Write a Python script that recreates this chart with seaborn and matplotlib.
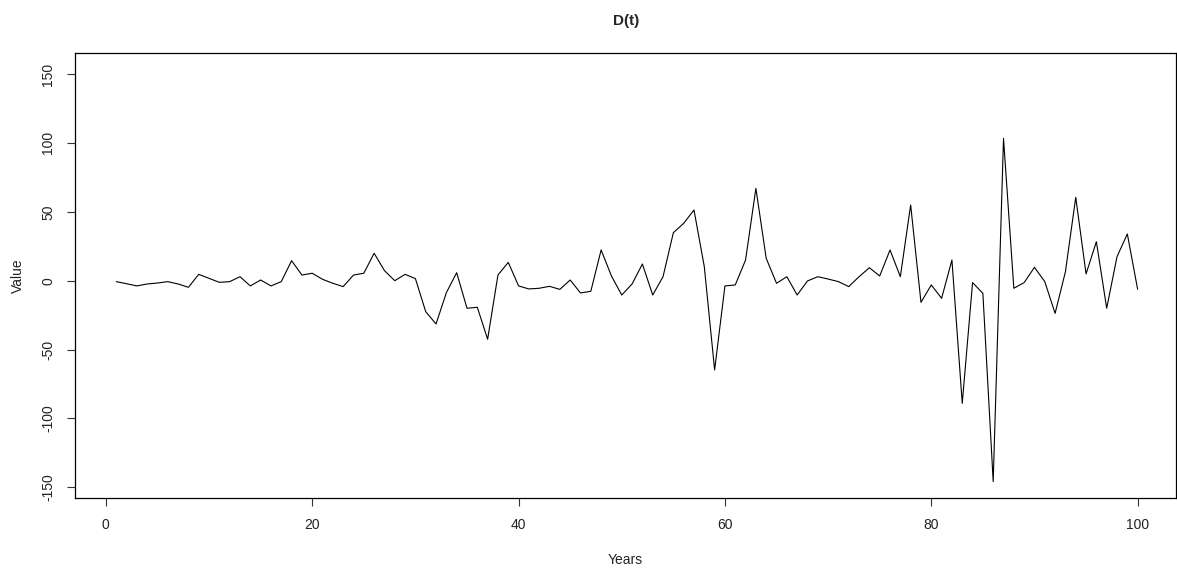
import numpy as np
import pandas as pd
import seaborn as sns
import matplotlib.pyplot as plt

# values, one per year
years = list(range(1, 101))
values = [
    -0.7, -2.2, -3.8, -2.4, -1.7, -0.7, -2.4, -4.8, 4.6, 1.7,
    -1.2, -0.7, 2.9, -3.8, 0.5, -3.8, -0.7, 14.5, 4.1, 5.4,
    1.0, -1.9, -4.3, 4.1, 5.4, 19.9, 7.3, 0.0, 4.6, 1.5,
    -22.5, -31.4, -8.7, 5.8, -20.0, -19.3, -42.5, 4.1, 13.3, -3.8,
    -6.0, -5.5, -4.1, -6.3, 0.5, -8.9, -7.7, 22.3, 3.4, -10.4,
    -2.4, 12.1, -10.4, 2.9, 34.8, 41.6, 51.3, 10.2, -64.8, -3.8,
    -3.1, 15.0, 67.0, 16.2, -1.9, 2.9, -10.4, -0.2, 2.9, 1.2,
    -0.7, -4.3, 2.9, 9.4, 3.4, 22.3, 2.9, 54.9, -15.7, -3.1,
    -12.8, 15.0, -89.0, -1.4, -9.2, -145.8, 103.3, -5.5, -1.4, 9.7,
    -0.7, -23.7, 6.5, 60.5, 4.9, 28.3, -20.0, 17.4, 33.9, -6.3,
]
x_ticks = [0, 20, 40, 60, 80, 100]
y_ticks = [-150, -100, -50, 0, 50, 100, 150]

df = pd.DataFrame({'Years': years, 'Value': values})

sns.set_style('white')
plt.rcParams['font.family'] = ['Liberation Sans', 'DejaVu Sans']
plt.rcParams['axes.unicode_minus'] = False  # R draws a plain hyphen

fig = plt.figure(figsize=(11.77, 5.70), dpi=100)
ax = fig.add_axes([0.064, 0.1263, 0.935, 0.7802])

sns.lineplot(data=df, x='Years', y='Value', color='black', linewidth=0.8, ax=ax)

ax.set_xlim(-2.96, 103.7)
ax.set_ylim(-157.7, 165)
ax.set_xticks(x_ticks)
ax.set_yticks(y_ticks)
ax.tick_params(direction='out', length=5.5, width=0.8, color='#333333',
               labelsize=10, labelcolor='#222222', pad=9,
               bottom=True, left=True)
plt.setp(ax.get_yticklabels(), rotation=90, va='center')
for s in ax.spines.values():
    s.set_color('black')
    s.set_linewidth(0.9)

ax.set_xlabel('Years', fontsize=10, color='#222222', labelpad=15)
ax.set_ylabel('Value', fontsize=10, color='#222222', labelpad=12)
fig.text(0.5318, 0.963, 'D(t)', ha='center', va='center', fontsize=11, fontweight='bold')

fig.savefig('out.png', dpi=100)
